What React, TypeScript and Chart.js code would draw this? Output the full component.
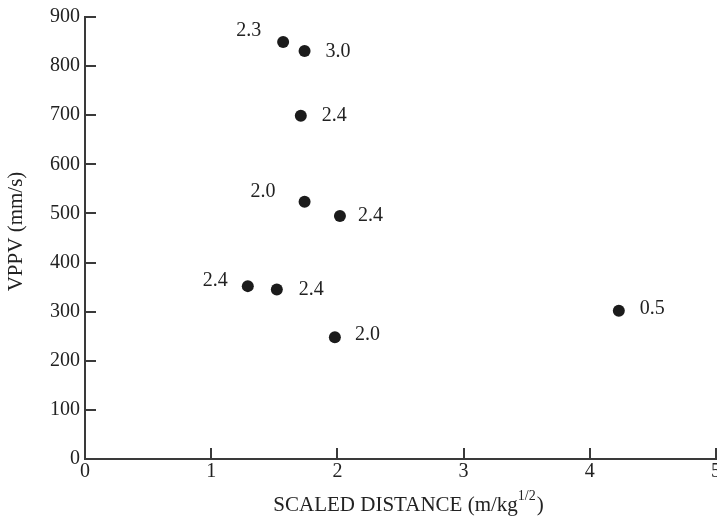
import React, { useEffect, useRef } from "react";
import { Chart, registerables } from "chart.js";

Chart.register(...registerables);

// ---- data ----
const scaledDistance = [1.57, 1.74, 1.71, 1.74, 2.02, 1.29, 1.52, 1.98, 4.23];
const vppv = [849, 831, 699, 524, 495, 352, 345, 248, 302];
const pointLabels = ["2.3", "3.0", "2.4", "2.0", "2.4", "2.4", "2.4", "2.0", "0.5"];
const xTickValues = [0, 1, 2, 3, 4, 5];
const yTickValues = [0, 100, 200, 300, 400, 500, 600, 700, 800, 900];
const yAxisTitle = "VPPV (mm/s)";
const xAxisTitleMain = "SCALED DISTANCE (m/kg";
const xAxisTitleSup = "1/2";
const xAxisTitleEnd = ")";

// ---- layout / style (not data) ----
// [side, horizontal gap from point centre, vertical offset]
const LABEL_PLACEMENT: Array<[string, number, number]> = [
  ["left", 22, -11],
  ["right", 21, 1],
  ["right", 21, 0],
  ["left", 29, -10],
  ["right", 18, 0],
  ["left", 20, -5],
  ["right", 22, 0],
  ["right", 20, -2],
  ["right", 21, -2],
];
const FONT = "'Liberation Serif', 'Times New Roman', serif";
const TEXT = "#222222";
const AXIS = "#3a3a3a";
const POINT = "#1b1b1b";
const CANVAS_W = 740;
const CANVAS_H = 518;

const annotatePlugin = {
  id: "annotate",
  afterDraw(chart: any) {
    const ctx = chart.ctx as CanvasRenderingContext2D;
    const xs = chart.scales.x;
    const ys = chart.scales.y;
    const area = chart.chartArea;
    ctx.save();

    // inward tick marks
    ctx.strokeStyle = AXIS;
    ctx.lineWidth = 2;
    ctx.beginPath();
    for (const t of ys.ticks) {
      const py = Math.round(ys.getPixelForValue(t.value));
      ctx.moveTo(area.left, py);
      ctx.lineTo(area.left + 11, py);
    }
    for (const t of xs.ticks) {
      const px = Math.round(xs.getPixelForValue(t.value));
      ctx.moveTo(px, area.bottom);
      ctx.lineTo(px, area.bottom - 11);
    }
    ctx.stroke();

    // point labels
    const meta = chart.getDatasetMeta(0);
    ctx.fillStyle = TEXT;
    ctx.font = `20px ${FONT}`;
    ctx.textBaseline = "middle";
    meta.data.forEach((el: any, i: number) => {
      const [side, gap, dy] = LABEL_PLACEMENT[i];
      ctx.textAlign = side === "left" ? "right" : "left";
      ctx.fillText(pointLabels[i], el.x + (side === "left" ? -gap : gap), el.y + dy);
    });

    // y axis title
    ctx.save();
    ctx.translate(16, 231.5);
    ctx.rotate(-Math.PI / 2);
    ctx.textAlign = "center";
    ctx.textBaseline = "middle";
    ctx.font = `21px ${FONT}`;
    ctx.fillText(yAxisTitle, 0, 0);
    ctx.restore();

    // x axis title with superscript
    ctx.textAlign = "left";
    ctx.textBaseline = "alphabetic";
    ctx.font = `21px ${FONT}`;
    const w1 = ctx.measureText(xAxisTitleMain).width;
    const w3 = ctx.measureText(xAxisTitleEnd).width;
    ctx.font = `14px ${FONT}`;
    const w2 = ctx.measureText(xAxisTitleSup).width;
    const total = w1 + w2 + w3 + 1;
    const cx = (area.left + area.right) / 2 + 8;
    let x0 = cx - total / 2;
    const base = 511;
    ctx.font = `21px ${FONT}`;
    ctx.fillText(xAxisTitleMain, x0, base);
    x0 += w1;
    ctx.font = `14px ${FONT}`;
    ctx.fillText(xAxisTitleSup, x0, base - 11);
    x0 += w2 + 1;
    ctx.font = `21px ${FONT}`;
    ctx.fillText(xAxisTitleEnd, x0, base);

    ctx.restore();
  },
};

export default function App() {
  const canvasRef = useRef<HTMLCanvasElement | null>(null);

  useEffect(() => {
    if (!canvasRef.current) return;
    const chart = new Chart(canvasRef.current, {
      type: "scatter",
      data: {
        datasets: [
          {
            data: scaledDistance.map((x, i) => ({ x, y: vppv[i] })),
            backgroundColor: POINT,
            borderColor: POINT,
            borderWidth: 0,
            pointRadius: 6,
            pointHoverRadius: 6,
          },
        ],
      },
      options: {
        responsive: false,
        animation: false,
        events: [],
        layout: { padding: { left: 0, right: CANVAS_W - 716, top: 17, bottom: 0 } },
        plugins: {
          legend: { display: false },
          tooltip: { enabled: false },
        },
        scales: {
          x: {
            type: "linear",
            min: xTickValues[0],
            max: xTickValues[xTickValues.length - 1],
            afterBuildTicks: (s: any) => {
              s.ticks = xTickValues.map((v) => ({ value: v }));
            },
            afterFit: (s: any) => {
              s.height = CANVAS_H - 459;
            },
            ticks: {
              color: TEXT,
              font: { family: FONT, size: 20 },
              padding: 1,
              maxRotation: 0,
              autoSkip: false,
            },
            grid: { display: false, drawTicks: false },
            border: { display: true, color: AXIS, width: 2 },
          },
          y: {
            type: "linear",
            min: yTickValues[0],
            max: yTickValues[yTickValues.length - 1],
            afterBuildTicks: (s: any) => {
              s.ticks = yTickValues.map((v) => ({ value: v }));
            },
            afterFit: (s: any) => {
              s.width = 85;
            },
            ticks: {
              color: TEXT,
              font: { family: FONT, size: 20 },
              padding: 5,
              autoSkip: false,
            },
            grid: { display: false, drawTicks: false },
            border: { display: true, color: AXIS, width: 2 },
          },
        },
      },
      plugins: [annotatePlugin],
    });
    return () => chart.destroy();
  }, []);

  return (
    <div
      style={{
        position: "absolute",
        left: 0,
        top: 0,
        width: 717,
        height: CANVAS_H,
        overflow: "hidden",
        background: "#ffffff",
      }}
    >
      <canvas
        ref={canvasRef}
        width={CANVAS_W}
        height={CANVAS_H}
        style={{ display: "block", width: CANVAS_W, height: CANVAS_H }}
      />
    </div>
  );
}
